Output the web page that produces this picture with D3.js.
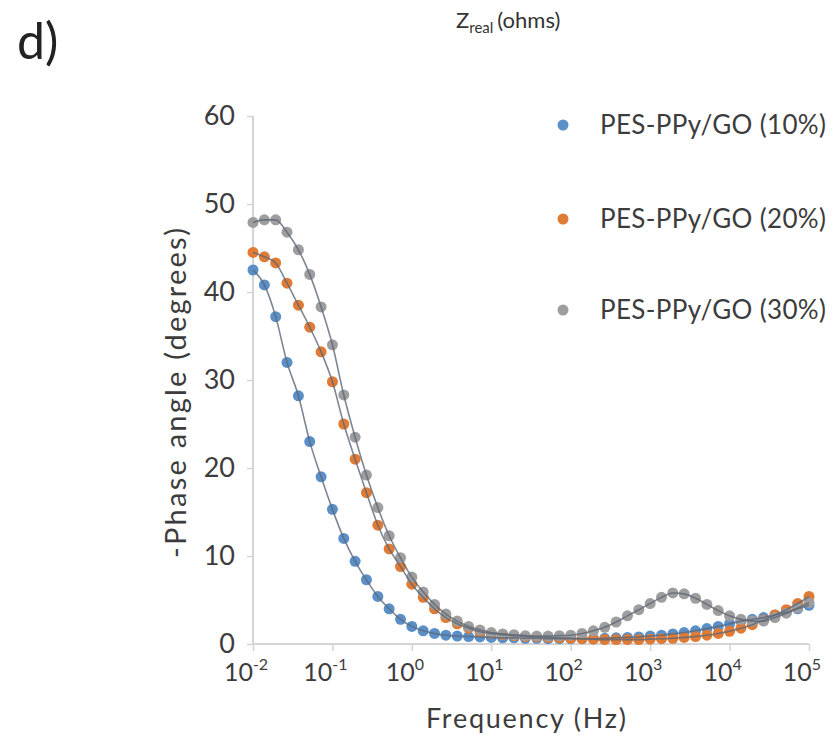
<!DOCTYPE html>
<html>
<head>
<meta charset="utf-8">
<script src="https://cdn.jsdelivr.net/npm/d3@7"></script>
<style>
  body { margin: 0; background: #fff; }
  text { font-family: Lato, "Open Sans", sans-serif; fill: #404040; }
</style>
</head>
<body>
<div id="chart"></div>
<script>
var svgWidth = 840;
var svgHeight = 742;

// frequencies (Hz), 7 points per decade from 10^-2 to 10^5
var freqHz = [
  0.01, 0.0139, 0.0193, 0.0268, 0.0373, 0.0518, 0.072,
  0.1, 0.139, 0.193, 0.268, 0.373, 0.518, 0.72,
  1, 1.39, 1.93, 2.68, 3.73, 5.18, 7.2,
  10, 13.9, 19.3, 26.8, 37.3, 51.8, 72,
  100, 139, 193, 268, 373, 518, 720,
  1000, 1390, 1930, 2680, 3730, 5180, 7200,
  10000, 13900, 19300, 26800, 37300, 51800, 72000,
  100000
];

// -phase angle (degrees)
var phase10 = [
  42.5, 40.8, 37.2, 32.0, 28.2, 23.0, 19.0,
  15.3, 12.0, 9.4, 7.3, 5.4, 4.0, 2.8,
  2.0, 1.5, 1.2, 1.0, 0.9, 0.85, 0.8,
  0.75, 0.7, 0.7, 0.65, 0.65, 0.6, 0.6,
  0.6, 0.6, 0.6, 0.65, 0.7, 0.75, 0.8,
  0.9, 1.0, 1.15, 1.3, 1.5, 1.75, 2.0,
  2.3, 2.6, 2.8, 3.0, 3.3, 3.6, 4.0,
  4.4
];
var phase20 = [
  44.5, 44.0, 43.3, 41.0, 38.5, 36.0, 33.2,
  29.8, 25.0, 21.0, 17.2, 13.5, 10.8, 8.8,
  6.8, 5.3, 4.0, 3.0, 2.3, 1.8, 1.4,
  1.2, 1.05, 0.95, 0.85, 0.8, 0.75, 0.7,
  0.65, 0.6, 0.55, 0.5, 0.5, 0.5, 0.5,
  0.55, 0.6, 0.65, 0.75, 0.85, 1.0, 1.2,
  1.45, 1.8, 2.2, 2.7, 3.3, 3.9, 4.6,
  5.4
];
var phase30 = [
  47.9, 48.2, 48.2, 46.8, 44.8, 42.0, 38.3,
  34.0, 28.3, 23.5, 19.2, 15.5, 12.3, 9.8,
  7.6, 5.9, 4.5, 3.4, 2.6, 2.0, 1.6,
  1.3, 1.15, 1.05, 0.95, 0.9, 0.9, 0.95,
  1.0, 1.2, 1.5, 1.9, 2.5, 3.2, 3.9,
  4.6, 5.3, 5.8, 5.7, 5.2, 4.5, 3.8,
  3.2, 2.8, 2.6, 2.6, 3.0, 3.5, 4.1,
  4.7
];

var seriesNames = ["PES-PPy/GO (10%)", "PES-PPy/GO (20%)", "PES-PPy/GO (30%)"];
var seriesColors = ["#5b8fc8", "#e07b35", "#9e9e9e"];
var yTicks = [0, 10, 20, 30, 40, 50, 60];
var xTickExps = [-2, -1, 0, 1, 2, 3, 4, 5];

var svg = d3.select("#chart")
  .append("svg")
  .attr("width", svgWidth)
  .attr("height", svgHeight);

// scales
var xScale = d3.scaleLog().domain([0.01, 100000]).range([253, 809]);
var yScale = d3.scaleLinear().domain([0, 60]).range([644, 116]);

// panel letter and the stray header text
svg.append("text")
  .attr("x", 17)
  .attr("y", 59)
  .style("font-size", "50px")
  .style("fill", "#222")
  .text("d)");

var header = svg.append("text")
  .attr("x", 456)
  .attr("y", 28)
  .style("font-size", "22px")
  .style("fill", "#333");
header.append("tspan").text("Z");
header.append("tspan").attr("dy", 5).style("font-size", "15px").text("real");
header.append("tspan").attr("dy", -5).attr("dx", 4).text("(ohms)");

// y axis
var yAxis = svg.append("g")
  .attr("transform", "translate(253,0)")
  .call(d3.axisLeft(yScale).tickValues(yTicks).tickSize(6).tickPadding(12));
yAxis.select(".domain").attr("stroke", "#d4d4d4").attr("stroke-width", 2).attr("d", "M0," + yScale(0) + "V" + yScale(60));
yAxis.selectAll(".tick line").attr("stroke", "#d4d4d4").attr("stroke-width", 1.5);
yAxis.selectAll(".tick text")
  .style("font-size", "27px")
  .style("font-family", "Lato, sans-serif")
  .style("fill", "#3c3c3c");

// x axis
var xAxis = svg.append("g")
  .attr("transform", "translate(0," + yScale(0) + ")")
  .call(d3.axisBottom(xScale).tickValues(xTickExps.map(e => Math.pow(10, e))).tickSize(7).tickFormat(""));
xAxis.select(".domain").attr("stroke", "#d4d4d4").attr("stroke-width", 2).attr("d", "M" + xScale(0.01) + ",0H" + xScale(100000));
xAxis.selectAll(".tick line").attr("stroke", "#d4d4d4").attr("stroke-width", 1.5);

// tick labels 10^n
var xLabels = svg.append("g").selectAll("text")
  .data(xTickExps)
  .enter()
  .append("text")
  .attr("x", d => xScale(Math.pow(10, d)) - 7)
  .attr("y", 681)
  .attr("text-anchor", "middle")
  .style("font-size", "25px")
  .style("fill", "#3c3c3c");
xLabels.append("tspan").text("10");
xLabels.append("tspan")
  .attr("dy", -11)
  .style("font-size", "16px")
  .text(d => d);

// axis titles
svg.append("text")
  .attr("transform", "translate(186,393) rotate(-90)")
  .attr("text-anchor", "middle")
  .attr("textLength", 330)
  .style("font-size", "29px")
  .style("fill", "#3c3c3c")
  .text("-Phase angle (degrees)");

svg.append("text")
  .attr("x", 526)
  .attr("y", 728)
  .attr("text-anchor", "middle")
  .attr("textLength", 200)
  .style("font-size", "27px")
  .style("fill", "#3c3c3c")
  .text("Frequency (Hz)");

// series: markers, then the dark fitted line over them
var allSeries = [phase10, phase20, phase30];
var line = d3.line()
  .x((d, i) => xScale(freqHz[i]))
  .y(d => yScale(d))
  .curve(d3.curveMonotoneX);

allSeries.forEach(function(vals, s) {
  svg.append("g")
    .selectAll("circle")
    .data(vals)
    .enter()
    .append("circle")
    .attr("cx", (d, i) => xScale(freqHz[i]))
    .attr("cy", d => yScale(d))
    .attr("r", 5.5)
    .attr("fill", seriesColors[s]);
});

allSeries.forEach(function(vals) {
  svg.append("path")
    .datum(vals)
    .attr("d", line)
    .attr("fill", "none")
    .attr("stroke", "#5d6877")
    .attr("stroke-width", 1.6)
    .attr("opacity", 0.8);
});

// legend
var legendY = [125, 219, 310];
var legend = svg.append("g");
seriesNames.forEach(function(name, s) {
  legend.append("circle")
    .attr("cx", 563)
    .attr("cy", legendY[s])
    .attr("r", 5.5)
    .attr("fill", seriesColors[s]);
  legend.append("text")
    .attr("x", 600)
    .attr("y", legendY[s])
    .attr("dy", "0.35em")
    .attr("textLength", 226)
    .style("font-size", "26px")
    .style("fill", "#3c3c3c")
    .text(name);
});
</script>
</body>
</html>
